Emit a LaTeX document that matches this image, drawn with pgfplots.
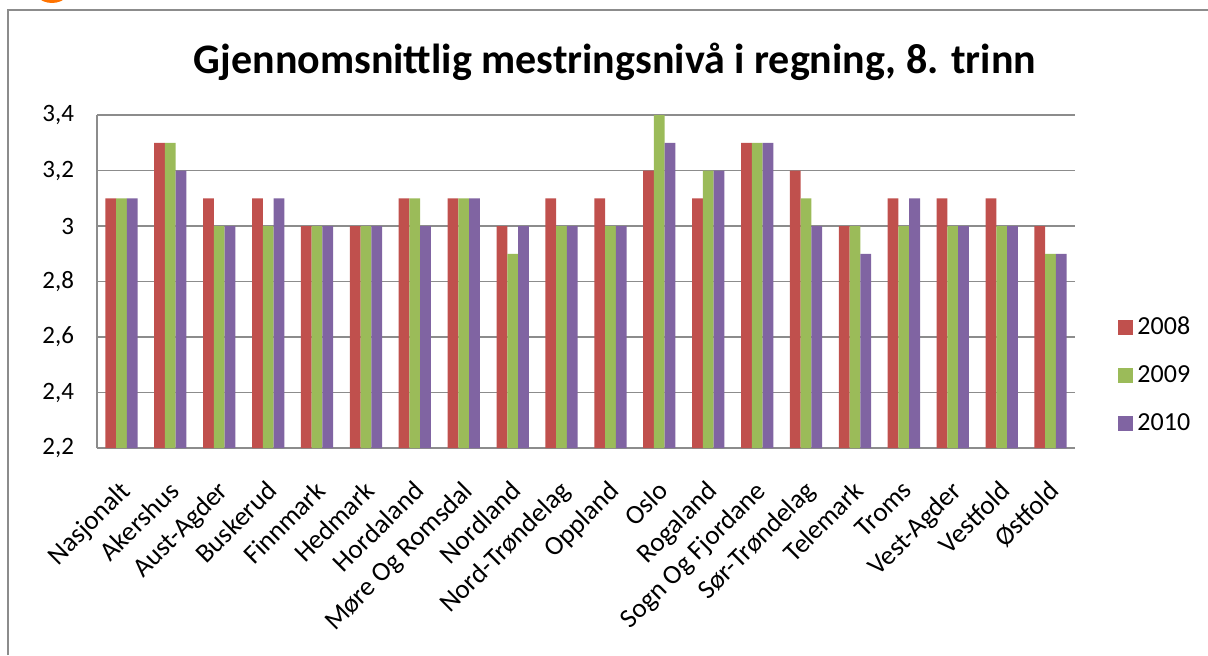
\documentclass[border=0pt]{standalone}
\usepackage{fontspec}
\setmainfont{Carlito}
\usepackage{pgfplots}
\pgfplotsset{compat=1.18}
\definecolor{cred}{HTML}{C0504D}
\definecolor{cgreen}{HTML}{9BBB59}
\definecolor{cpurple}{HTML}{8064A2}
\definecolor{cgrid}{HTML}{8C8C8C}
\begin{document}
\begin{tikzpicture}
\path[use as bounding box] (0,0) rectangle (604pt,327.5pt);
\begin{scope}
\clip (0,0) rectangle (604pt,327.5pt);
\fill[orange!90!red] (26pt,337pt) circle (11pt);
\end{scope}
\draw[cgrid, line width=1pt] (4pt,0) -- (4pt,322.5pt) -- (604pt,322.5pt);
\node[font=\bfseries\fontsize{21}{24}\selectfont] at (307.5pt,296.5pt) {Gjennomsnittlig mestringsnivå i regning, 8. trinn};
\begin{axis}[
  at={(48.5pt,103.5pt)}, anchor=south west,
  scale only axis, width=489pt, height=166.5pt,
  ybar=0pt, bar width=0.22,
  xmin=-0.5, xmax=19.5, ymin=2.2, ymax=3.4,
  xtick={0,...,19},
  xticklabels={Nasjonalt,Akershus,Aust-Agder,Buskerud,Finnmark,Hedmark,Hordaland,Møre Og Romsdal,Nordland,Nord-Trøndelag,Oppland,Oslo,Rogaland,Sogn Og Fjordane,Sør-Trøndelag,Telemark,Troms,Vest-Agder,Vestfold,Østfold},
  ytick={2.2,2.4,2.6,2.8,3.0,3.2,3.4},
  major tick length=0pt,
  axis x line*=bottom, axis y line*=left,
  axis line style={cgrid, line width=0.7pt},
  ymajorgrids, grid style={cgrid, line width=0.7pt},
  /pgf/number format/assume math mode=true,
  /pgf/number format/use comma, /pgf/number format/fixed, /pgf/number format/precision=1,
  yticklabel style={font=\fontsize{12.5}{14}\selectfont, xshift=-8pt},
  xticklabel style={font=\fontsize{13.5}{15}\selectfont, xshift=-1.5pt, yshift=-14pt, rotate=45, anchor=north east, inner sep=1pt},
  legend style={draw=none, at={(1.044,0.219)}, anchor=west, font=\fontsize{13}{15}\selectfont, row sep=10pt, inner sep=0pt, legend cell align=left},
  legend image code/.code={\fill[#1] (0pt,-3.75pt) rectangle (7.5pt,3.75pt);},
]
\addplot[fill=cred, draw=none] coordinates {(0,3.1)(1,3.3)(2,3.1)(3,3.1)(4,3.0)(5,3.0)(6,3.1)(7,3.1)(8,3.0)(9,3.1)(10,3.1)(11,3.2)(12,3.1)(13,3.3)(14,3.2)(15,3.0)(16,3.1)(17,3.1)(18,3.1)(19,3.0)};
\addplot[fill=cgreen, draw=none] coordinates {(0,3.1)(1,3.3)(2,3.0)(3,3.0)(4,3.0)(5,3.0)(6,3.1)(7,3.1)(8,2.9)(9,3.0)(10,3.0)(11,3.4)(12,3.2)(13,3.3)(14,3.1)(15,3.0)(16,3.0)(17,3.0)(18,3.0)(19,2.9)};
\addplot[fill=cpurple, draw=none] coordinates {(0,3.1)(1,3.2)(2,3.0)(3,3.1)(4,3.0)(5,3.0)(6,3.0)(7,3.1)(8,3.0)(9,3.0)(10,3.0)(11,3.3)(12,3.2)(13,3.3)(14,3.0)(15,2.9)(16,3.1)(17,3.0)(18,3.0)(19,2.9)};
\legend{2008,2009,2010}
\end{axis}
\end{tikzpicture}
\end{document}
